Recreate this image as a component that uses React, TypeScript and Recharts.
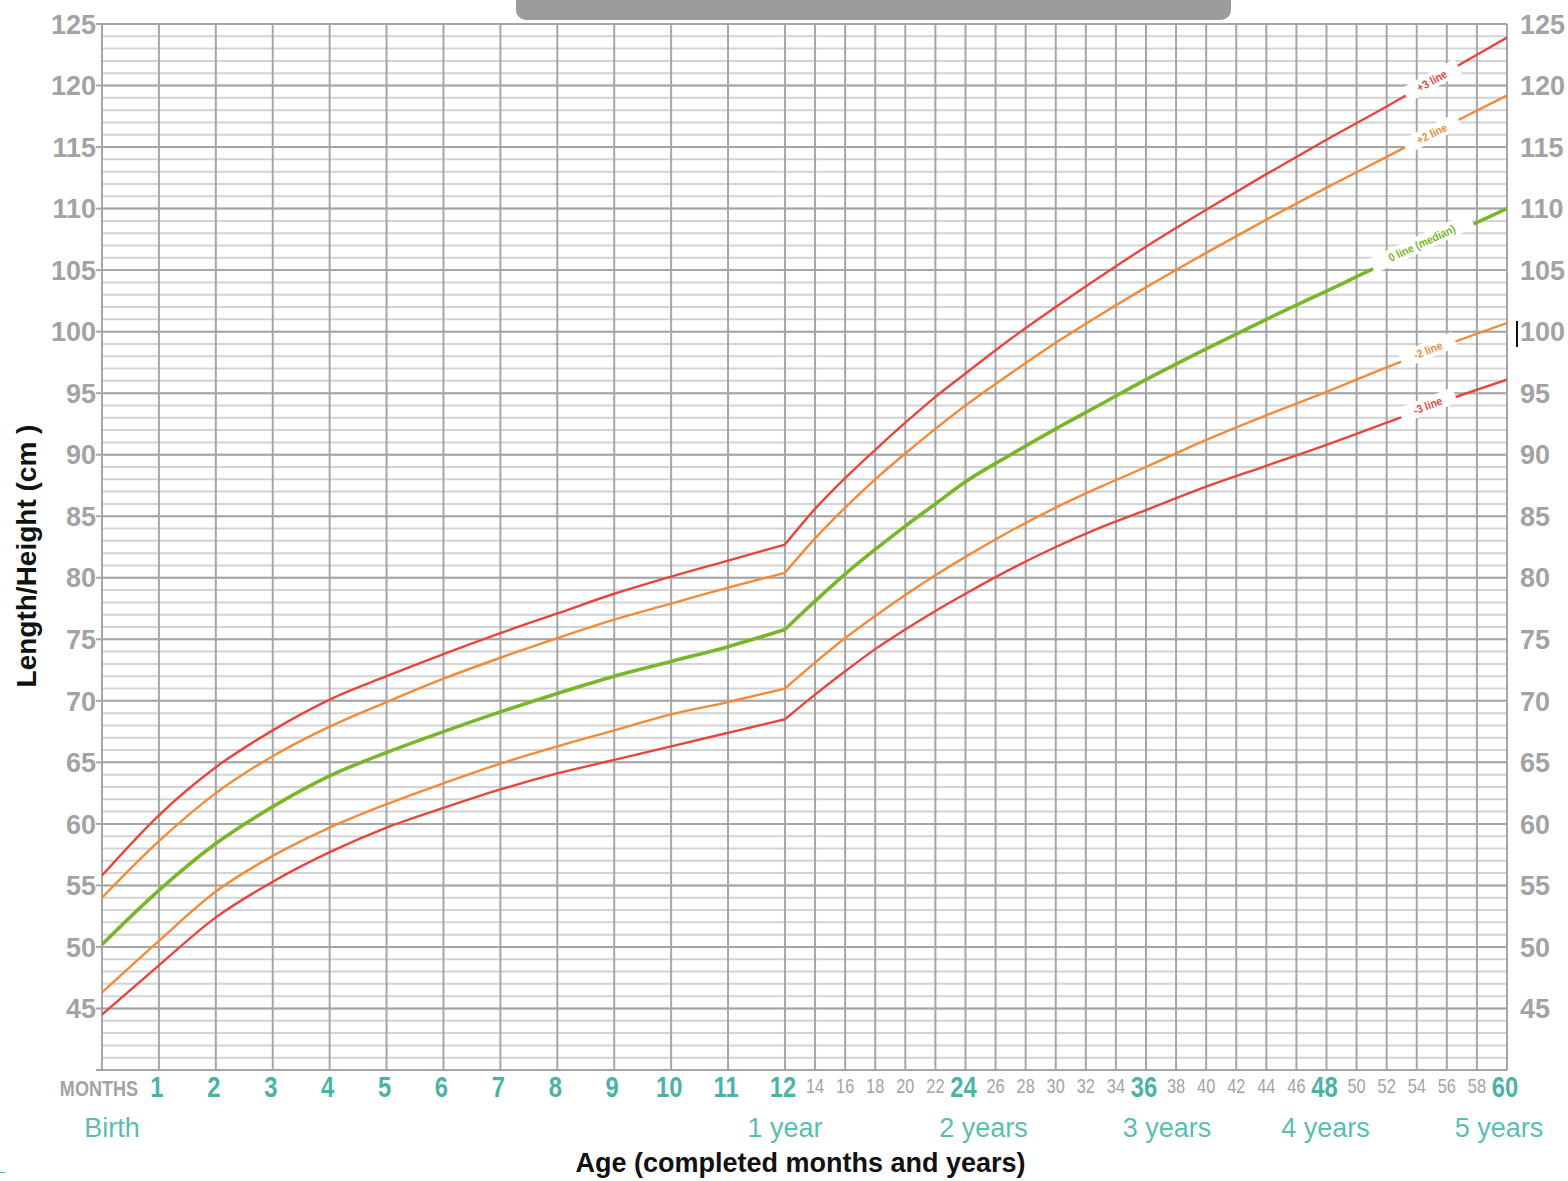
import React from 'react';
import { LineChart, Line, XAxis, YAxis, CartesianGrid, Label } from 'recharts';

// ---------- data ----------
const ageMonths = [0, 1, 2, 3, 4, 5, 6, 7, 8, 9, 10, 11, 12, 14, 16, 18, 20, 22, 24, 27, 30, 33, 36, 40, 44, 48, 52, 55, 60];
const plus3 = [55.8, 60.7, 64.6, 67.6, 70.1, 72.0, 73.8, 75.5, 77.1, 78.7, 80.1, 81.4, 82.7, 85.6, 88.1, 90.4, 92.6, 94.7, 96.6, 99.4, 102.0, 104.5, 106.9, 109.9, 112.8, 115.6, 118.3, 120.4, 123.9];
const plus2 = [54.0, 58.6, 62.5, 65.5, 67.9, 69.9, 71.8, 73.5, 75.1, 76.6, 77.9, 79.2, 80.4, 83.2, 85.7, 88.0, 90.1, 92.1, 94.0, 96.6, 99.1, 101.4, 103.6, 106.4, 109.1, 111.7, 114.2, 116.1, 119.2];
const median = [50.2, 54.6, 58.4, 61.4, 63.9, 65.8, 67.5, 69.1, 70.6, 72.0, 73.2, 74.4, 75.8, 78.1, 80.3, 82.3, 84.2, 86.0, 87.8, 90.0, 92.1, 94.1, 96.1, 98.6, 101.0, 103.3, 105.6, 107.2, 110.0];
const minus2 = [46.3, 50.5, 54.5, 57.4, 59.7, 61.6, 63.3, 64.9, 66.3, 67.6, 68.9, 69.9, 71.0, 73.1, 75.1, 76.9, 78.6, 80.2, 81.7, 83.8, 85.7, 87.4, 89.0, 91.2, 93.2, 95.1, 97.1, 98.5, 100.7];
const minus3 = [44.5, 48.5, 52.4, 55.3, 57.7, 59.7, 61.3, 62.8, 64.1, 65.2, 66.3, 67.4, 68.5, 70.5, 72.4, 74.2, 75.8, 77.3, 78.7, 80.7, 82.5, 84.1, 85.5, 87.4, 89.1, 90.8, 92.6, 94.0, 96.1];

const gridMonths = [0, 1, 2, 3, 4, 5, 6, 7, 8, 9, 10, 11, 12, 14, 16, 18, 20, 22, 24, 26, 28, 30, 32, 34, 36, 38, 40, 42, 44, 46, 48, 50, 52, 54, 56, 58, 60];
const boldMonths = [1, 2, 3, 4, 5, 6, 7, 8, 9, 10, 11, 12, 24, 36, 48, 60];
const heightTicks = [40, 45, 50, 55, 60, 65, 70, 75, 80, 85, 90, 95, 100, 105, 110, 115, 120, 125];
const minorHeightTicks = Array.from({ length: 86 }, (_, i) => 40 + i);
const yearLabels = [
  { month: 0, text: 'Birth' },
  { month: 12, text: '1 year' },
  { month: 24, text: '2 years' },
  { month: 36, text: '3 years' },
  { month: 48, text: '4 years' },
  { month: 60, text: '5 years' },
];
const lineLabels = ['+3 line', '+2 line', '0 line (median)', '-2 line', '-3 line'];
const LABEL_MONTH = 55;
const YEAR_BREAK = 12;

// ---------- piecewise age axis (first year is wider) ----------
const LATE_RATIO = 0.2643;
const toAxis = (m: number) => (m <= YEAR_BREAK ? m : YEAR_BREAK + (m - YEAR_BREAK) * LATE_RATIO);
const fromAxis = (u: number) => (u <= YEAR_BREAK ? u : YEAR_BREAK + (u - YEAR_BREAK) / LATE_RATIO);

const seriesValues: Record<string, number[]> = { p3: plus3, p2: plus2, med: median, m2: minus2, m3: minus3 };

const rows = ageMonths.map((m, i) => {
  const r: any = { month: m, u: toAxis(m) };
  Object.keys(seriesValues).forEach((k) => {
    if (m <= YEAR_BREAK) r[`${k}_a`] = seriesValues[k][i];
    if (m >= YEAR_BREAK) r[`${k}_b`] = seriesValues[k][i];
  });
  return r;
});

// ---------- styles ----------
const FONT = "'Liberation Sans', Arial, Helvetica, sans-serif";
const RED = '#e8463d';
const ORANGE = '#f28b3a';
const GREEN = '#7ab62a';
const TEAL = '#4bb3a6';
const TEAL_LIGHT = '#5cbdb1';
const GRAY_TXT = '#a3a3a3';

const seriesStyle = [
  { key: 'p3', color: RED, width: 2.4, angle: -29, boxW: 60, dx: 0 },
  { key: 'p2', color: ORANGE, width: 2.4, angle: -26, boxW: 60, dx: 0 },
  { key: 'med', color: GREEN, width: 3.6, angle: -25, boxW: 110, dx: -10 },
  { key: 'm2', color: ORANGE, width: 2.4, angle: -22, boxW: 58, dx: -4 },
  { key: 'm3', color: RED, width: 2.4, angle: -21, boxW: 58, dx: -4 },
];
const yearLabelDx: Record<number, number> = { 0: 10, 12: 0, 24: 18, 36: 21, 48: -1, 60: -8 };

// ---------- custom ticks ----------
const narrow = (x: number, y: number) => `translate(${x},${y}) scale(0.82,1)`;

const XTick = (props: any) => {
  const { x, y, payload } = props;
  const m = Math.round(fromAxis(payload.value));
  const yl = yearLabels.find((d) => d.month === m);
  let num: React.ReactNode = null;
  if (m === 0) {
    num = (
      <text transform={narrow(x + 36, y + 26)} textAnchor="end" fontFamily={FONT} fontWeight="bold" fontSize={22} fill={GRAY_TXT}>
        MONTHS
      </text>
    );
  } else if (boldMonths.includes(m)) {
    num = (
      <text transform={narrow(x - 2, y + 27)} textAnchor="middle" fontFamily={FONT} fontWeight="bold" fontSize={29} fill={TEAL}>
        {m}
      </text>
    );
  } else {
    num = (
      <text transform={narrow(x, y + 23)} textAnchor="middle" fontFamily={FONT} fontSize={20} fill={GRAY_TXT}>
        {m}
      </text>
    );
  }
  return (
    <g>
      {num}
      {yl ? (
        <text x={x + (yearLabelDx[m] || 0)} y={y + 67} textAnchor="middle" fontFamily={FONT} fontSize={27} fill={TEAL_LIGHT}>
          {yl.text}
        </text>
      ) : null}
    </g>
  );
};

const YTickLeft = (props: any) => {
  const { x, y, payload } = props;
  if (payload.value === 40) return <g />;
  return (
    <text x={x} y={y} dy="0.36em" textAnchor="end" fontFamily={FONT} fontWeight="bold" fontSize={27} fill={GRAY_TXT}>
      {payload.value}
    </text>
  );
};

const YTickRight = (props: any) => {
  const { x, y, payload } = props;
  if (payload.value === 40) return <g />;
  return (
    <text x={x} y={y} dy="0.36em" textAnchor="start" fontFamily={FONT} fontWeight="bold" fontSize={27} fill={GRAY_TXT}>
      {payload.value}
    </text>
  );
};

const YTitle = (props: any) => {
  const vb = props.viewBox || { x: 0, y: 24, width: 102, height: 1046 };
  const cx = vb.x + 36;
  const cy = vb.y + vb.height / 2 + 9;
  return (
    <text transform={`translate(${cx},${cy}) rotate(-90)`} textAnchor="middle" fontFamily={FONT} fontWeight="bold" fontSize={28} fill="#111">
      Length/Height (cm )
    </text>
  );
};

const XTitle = (props: any) => {
  const vb = props.viewBox || { x: 102, y: 1070, width: 1405, height: 111 };
  return (
    <text x={vb.x + vb.width / 2 - 4} y={vb.y + 102} textAnchor="middle" fontFamily={FONT} fontWeight="bold" fontSize={27} fill="#111">
      Age (completed months and years)
    </text>
  );
};

const makeLabelDot = (idx: number) => (props: any) => {
  const { cx, cy, payload, index } = props;
  const st = seriesStyle[idx];
  if (!payload || payload.month !== LABEL_MONTH || cx == null || cy == null) {
    return <g key={`d-${st.key}-${index}`} />;
  }
  return (
    <g key={`d-${st.key}-${index}`} transform={`translate(${cx + st.dx},${cy}) rotate(${st.angle})`}>
      <rect x={-st.boxW / 2} y={-8} width={st.boxW} height={16} fill="#ffffff" />
      <text
        transform="scale(0.9,1)"
        x={0}
        y={0}
        dy="0.36em"
        textAnchor="middle"
        fontFamily={FONT}
        fontWeight="bold"
        fontSize={11.5}
        fill={st.color}
      >
        {lineLabels[idx]}
      </text>
    </g>
  );
};

export default function App() {
  return (
    <div style={{ position: 'absolute', left: 0, top: 0, width: 1568, height: 1181, background: '#fff', overflow: 'hidden' }}>
      <LineChart width={1568} height={1181} data={rows} margin={{ top: 24, right: 0, bottom: 0, left: 0 }}>
        <CartesianGrid yAxisId="minor" vertical={false} stroke="#d3d3d3" strokeWidth={2} />
        <CartesianGrid yAxisId="left" stroke="#a6a6a6" strokeWidth={2} />
        <XAxis
          dataKey="u"
          type="number"
          domain={[0, toAxis(60)]}
          ticks={gridMonths.map(toAxis)}
          interval={0}
          tick={XTick}
          tickLine={false}
          axisLine={false}
          tickSize={0}
          tickMargin={0}
          height={111}
          allowDataOverflow
        >
          <Label content={XTitle} />
        </XAxis>
        <YAxis
          yAxisId="left"
          orientation="left"
          type="number"
          domain={[40, 125]}
          ticks={heightTicks}
          interval={0}
          width={102}
          tickSize={6}
          tickMargin={0}
          tickLine={{ stroke: '#a6a6a6', strokeWidth: 2 }}
          axisLine={false}
          tick={YTickLeft}
          allowDataOverflow
        >
          <Label content={YTitle} />
        </YAxis>
        <YAxis
          yAxisId="right"
          orientation="right"
          type="number"
          domain={[40, 125]}
          ticks={heightTicks}
          interval={0}
          width={61}
          tickSize={0}
          tickMargin={13}
          tickLine={false}
          axisLine={false}
          tick={YTickRight}
          allowDataOverflow
        />
        <YAxis yAxisId="minor" hide type="number" domain={[40, 125]} ticks={minorHeightTicks} interval={0} allowDataOverflow />
        {seriesStyle.map((s) => (
          <Line
            key={`${s.key}_a`}
            yAxisId="left"
            dataKey={`${s.key}_a`}
            type="monotone"
            stroke={s.color}
            strokeWidth={s.width}
            dot={false}
            activeDot={false}
            isAnimationActive={false}
          />
        ))}
        {seriesStyle.map((s, i) => (
          <Line
            key={`${s.key}_b`}
            yAxisId="left"
            dataKey={`${s.key}_b`}
            type="monotone"
            stroke={s.color}
            strokeWidth={s.width}
            dot={makeLabelDot(i)}
            activeDot={false}
            isAnimationActive={false}
          />
        ))}
      </LineChart>
      <div
        style={{
          position: 'absolute',
          left: 516,
          top: 0,
          width: 715,
          height: 20,
          background: '#9c9c9c',
          borderBottomLeftRadius: 10,
          borderBottomRightRadius: 10,
        }}
      />
      <div style={{ position: 'absolute', left: 1516, top: 321, width: 2, height: 26, background: '#111' }} />
      <div style={{ position: 'absolute', left: 0, top: 1172, width: 5, height: 1, background: TEAL }} />
    </div>
  );
}
